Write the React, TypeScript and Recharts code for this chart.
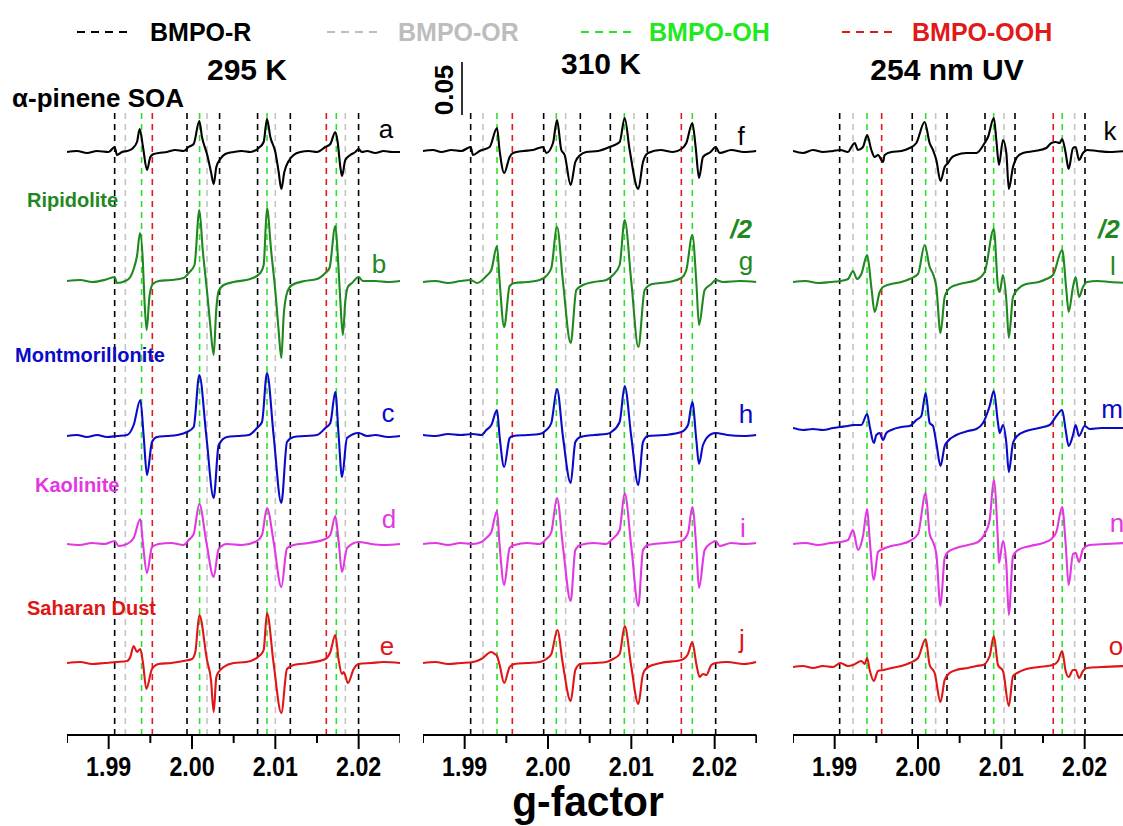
import React from 'react';
import { LineChart, Line, XAxis, YAxis, ReferenceLine } from 'recharts';

type Pt = [number, number];

// ---- adduct marker positions (g-factor) per panel ----
const R_295 = [1.99072, 1.9994, 2.00331, 2.00787, 2.0118, 2.01999];
const OR_295 = [1.992, 2.0018, 2.01, 2.0184];
const OH_295 = [1.99395, 2.00091, 2.009, 2.01732];
const OOH_295 = [1.99524, 2.01612];

const R_310 = [1.99072, 1.99948, 2.00388, 2.00748, 2.01192, 2.02012];
const OR_310 = [1.9922, 2.00212, 2.01032];
const OH_310 = [1.99388, 2.001, 2.00916, 2.01732];
const OOH_310 = [1.99572, 2.016];

const R_UV = [1.9906, 1.99931, 2.00348, 2.00804, 2.01164, 2.02004];
const OR_UV = [1.9922, 2.00212, 2.01032, 2.0188];
const OH_UV = [1.99388, 2.00092, 2.00908, 2.01731];
const OOH_UV = [1.99564, 2.01623];

// ---- spectra: [g-factor, intensity (a.u., 53 = 0.05)] ----
const soa295: Pt[] = [[1.985,0],[1.9862,1],[1.9874,-1],[1.9886,1],[1.99,0],[1.99072,5],[1.991,-3],[1.9916,0],[1.9922,1],[1.9928,3],[1.9934,10],[1.99372,23],[1.99412,5],[1.9946,-18],[1.995,-5],[1.9954,-2],[1.996,-1],[1.997,0],[1.998,2],[1.999,1],[1.9996,5],[2.0002,8],[2.00088,31],[2.0012,15],[2.0018,-2],[2.00228,-20],[2.0026,-32],[2.00292,-15],[2.0034,-7],[2.004,-2],[2.005,0],[2.006,1],[2.007,0],[2.008,4],[2.0086,10],[2.009,33],[2.0094,15],[2.01,0],[2.0104,-20],[2.01072,-37],[2.01108,-20],[2.0116,-9],[2.0122,-3],[2.013,0],[2.014,1],[2.015,0],[2.016,5],[2.0166,8],[2.0172,20],[2.01748,10],[2.0178,-15],[2.018,-24],[2.0184,-8],[2.019,-3],[2.0196,0],[2.02,3],[2.0204,0],[2.021,1],[2.022,-1],[2.023,1],[2.024,0],[2.025,0]];
const rip295: Pt[] = [[1.985,0],[1.9866,1],[1.988,-1],[1.9895,1],[1.99072,4],[1.991,-2],[1.992,0],[1.9926,4],[1.993,12],[1.9934,25],[1.99376,48],[1.9941,20],[1.9943,-20],[1.99456,-49],[1.9949,-15],[1.9953,-3],[1.996,0],[1.9975,1],[1.999,3],[1.9996,8],[2.0003,16],[2.00088,71],[2.0013,30],[2.0018,-10],[2.0022,-45],[2.0026,-74],[2.0029,-30],[2.0032,-10],[2.0038,-4],[2.005,-1],[2.007,2],[2.0082,8],[2.0086,16],[2.009,73],[2.0095,30],[2.01,-10],[2.0104,-50],[2.01072,-77],[2.011,-35],[2.0114,-12],[2.012,-4],[2.0135,0],[2.015,2],[2.016,8],[2.0165,13],[2.0172,55],[2.0175,25],[2.0178,-20],[2.0181,-54],[2.0184,-20],[2.0187,-6],[2.0192,-2],[2.02,4],[2.0205,0],[2.022,0],[2.0235,-1],[2.025,0]];
const mont295: Pt[] = [[1.985,0],[1.9862,1],[1.9874,-1],[1.9886,1],[1.9898,-1],[1.991,0],[1.9922,1],[1.993,11],[1.9938,36],[1.9942,0],[1.9946,-39],[1.9952,-6],[1.9958,-1],[1.997,0],[1.9982,1],[1.9994,4],[2.0002,9],[2.00088,61],[2.00172,0],[2.0026,-62],[2.0032,-9],[2.0042,-1],[2.0055,0],[2.0068,1],[2.0078,8],[2.0084,14],[2.009,63],[2.0098,0],[2.01072,-67],[2.0114,-6],[2.0122,-1],[2.0135,0],[2.015,1],[2.016,8],[2.0166,13],[2.0172,44],[2.0176,0],[2.018,-41],[2.0186,-2],[2.02,3],[2.021,0],[2.022,1],[2.0235,-1],[2.025,0]];
const kao295: Pt[] = [[1.985,0],[1.9865,-1],[1.988,1],[1.9895,0],[1.99072,3],[1.9912,-2],[1.9922,0],[1.993,6],[1.9938,25],[1.99412,0],[1.9946,-29],[1.9952,-3],[1.996,0],[1.9975,1],[1.999,-1],[1.9996,4],[2.0002,10],[2.00088,40],[2.00172,2],[2.0026,-33],[2.0032,-5],[2.0042,0],[2.006,-1],[2.0078,3],[2.0084,9],[2.009,36],[2.0098,2],[2.01072,-43],[2.0114,-4],[2.0122,-1],[2.014,1],[2.016,5],[2.0166,9],[2.0172,28],[2.0176,2],[2.018,-28],[2.0186,-4],[2.02,2],[2.0215,0],[2.023,-1],[2.025,0]];
const sah295: Pt[] = [[1.985,0],[1.9866,1],[1.988,-1],[1.9895,0],[1.991,1],[1.9922,2],[1.9926,6],[1.993,17],[1.9934,11],[1.9938,14],[1.99412,0],[1.99452,-26],[1.9952,-6],[1.996,-1],[1.9975,0],[1.999,2],[2.0,4],[2.0004,11],[2.00088,48],[2.0018,3],[2.00228,-17],[2.0026,-49],[2.00292,-14],[2.0032,-9],[2.0038,-4],[2.005,0],[2.0065,1],[2.0082,8],[2.0086,13],[2.009,50],[2.0098,-1],[2.01072,-50],[2.0114,-6],[2.0122,-2],[2.014,0],[2.016,4],[2.0166,11],[2.0172,28],[2.0176,3],[2.018,-11],[2.0182,-9],[2.01872,-20],[2.0194,-6],[2.02,-1],[2.0215,0],[2.023,1],[2.025,0]];

const soa310: Pt[] = [[1.985,0],[1.9862,1],[1.9872,-1],[1.9884,1],[1.9896,0],[1.99072,4],[1.991,-4],[1.9918,0],[1.993,4],[1.99388,23],[1.9942,0],[1.99474,-22],[1.9954,-6],[1.9958,-2],[1.997,0],[1.9982,1],[1.9994,4],[1.9998,-2],[2.0006,8],[2.00108,31],[2.0016,1],[2.002,-4],[2.00272,-34],[2.00328,-11],[2.00388,-4],[2.0046,-1],[2.006,0],[2.0074,4],[2.0086,9],[2.0092,33],[2.0098,1],[2.01084,-38],[2.0114,-11],[2.012,-2],[2.0135,1],[2.015,-1],[2.016,2],[2.0166,8],[2.01732,28],[2.01772,4],[2.01812,-27],[2.0186,-6],[2.0195,-1],[2.02012,4],[2.0206,-2],[2.022,1],[2.0235,-1],[2.025,0]];
const rip310: Pt[] = [[1.985,0],[1.9865,1],[1.988,-1],[1.9895,1],[1.99072,2],[1.9915,-1],[1.9926,6],[1.9932,12],[1.99388,36],[1.9942,0],[1.99474,-45],[1.9954,-4],[1.996,-1],[1.9975,0],[1.999,2],[1.9998,6],[2.0004,14],[2.00108,55],[2.0018,0],[2.00272,-61],[2.0034,-8],[2.0042,-3],[2.0055,0],[2.007,2],[2.0078,7],[2.0086,17],[2.0092,62],[2.01,0],[2.01084,-65],[2.0116,-8],[2.0125,-2],[2.0145,0],[2.016,4],[2.0166,12],[2.01732,47],[2.0178,0],[2.01812,-43],[2.0188,-8],[2.0196,-2],[2.02012,2],[2.021,0],[2.023,1],[2.025,0]];
const mont310: Pt[] = [[1.985,0],[1.9865,-1],[1.988,1],[1.9895,0],[1.991,1],[1.992,0],[1.9926,5],[1.9932,10],[1.99388,25],[1.9942,-2],[1.99474,-32],[1.9954,-3],[1.9958,-1],[1.9975,0],[1.999,1],[1.9998,5],[2.0004,12],[2.00108,46],[2.0018,-2],[2.00272,-48],[2.00328,-7],[2.00388,-2],[2.0055,0],[2.007,1],[2.0076,3],[2.0086,13],[2.0092,49],[2.01,-2],[2.01084,-50],[2.0114,-7],[2.012,-1],[2.014,0],[2.016,3],[2.0168,10],[2.01732,33],[2.0178,-5],[2.01812,-29],[2.0186,-10],[2.0196,1],[2.02012,2],[2.0215,0],[2.0235,-1],[2.025,0]];
const kao310: Pt[] = [[1.985,0],[1.9865,1],[1.988,-1],[1.9895,1],[1.991,0],[1.992,2],[1.9926,6],[1.9932,12],[1.99388,33],[1.9942,-2],[1.99474,-41],[1.9954,-4],[1.996,-1],[1.9975,1],[1.999,0],[1.9998,5],[2.0004,12],[2.00108,46],[2.0018,-3],[2.00272,-57],[2.00328,-6],[2.00388,-1],[2.0055,1],[2.007,0],[2.0076,4],[2.0086,14],[2.0092,51],[2.01,-3],[2.01084,-62],[2.0114,-6],[2.012,-1],[2.014,1],[2.016,3],[2.0168,11],[2.01732,37],[2.0178,-4],[2.01812,-44],[2.0188,-6],[2.0196,1],[2.02012,3],[2.0206,-2],[2.022,1],[2.0235,0],[2.025,1]];
const sah310: Pt[] = [[1.985,0],[1.9865,1],[1.988,-1],[1.9895,0],[1.991,1],[1.992,4],[1.9932,11],[1.9936,9],[1.99388,7],[1.9942,-2],[1.99474,-20],[1.9954,-4],[1.996,-1],[1.9975,0],[1.999,1],[1.9998,4],[2.0004,9],[2.00112,33],[2.0018,-2],[2.00272,-38],[2.00328,-7],[2.00388,-1],[2.0055,0],[2.007,1],[2.0078,4],[2.0086,9],[2.0092,37],[2.01,-4],[2.01084,-41],[2.0114,-11],[2.012,-4],[2.0135,0],[2.016,3],[2.0168,9],[2.01732,21],[2.0178,-1],[2.0182,-14],[2.0186,-11],[2.019,-12],[2.0196,-2],[2.02012,0],[2.0215,1],[2.0235,-1],[2.025,1]];

const soaUV: Pt[] = [[1.985,0],[1.9862,-2],[1.9874,1],[1.9886,-1],[1.9898,0],[1.99068,1],[1.9916,-1],[1.992,4],[1.9924,8],[1.9928,1],[1.9934,4],[1.9939,16],[1.9944,1],[1.9948,-6],[1.9952,-4],[1.9958,-11],[1.996,-4],[1.9968,-1],[1.998,0],[1.999,3],[1.9998,8],[2.0008,29],[2.0014,8],[2.0018,1],[2.0022,-9],[2.0027,-30],[2.0032,-16],[2.0036,-12],[2.004,-7],[2.0046,-4],[2.0058,-2],[2.007,-2],[2.008,8],[2.0084,14],[2.0091,33],[2.0094,11],[2.00972,-14],[2.0102,11],[2.0106,-2],[2.0109,-38],[2.0114,-16],[2.0119,-6],[2.0126,-2],[2.014,0],[2.0154,3],[2.016,8],[2.01652,9],[2.017,8],[2.0173,12],[2.01772,-2],[2.01808,-18],[2.0186,3],[2.01892,4],[2.01932,-9],[2.0198,-2],[2.0203,1],[2.0215,0],[2.023,-1],[2.025,0]];
const ripUV: Pt[] = [[1.985,0],[1.9865,1],[1.988,-1],[1.9895,0],[1.99068,1],[1.9916,3],[1.9922,11],[1.99268,3],[1.9932,8],[1.9939,27],[1.9944,-5],[1.9948,-30],[1.9954,-10],[1.9958,-5],[1.9968,-2],[1.998,0],[1.999,3],[2.0,8],[2.0008,37],[2.0014,15],[2.0018,8],[2.0022,-5],[2.0027,-51],[2.0032,-15],[2.0036,-8],[2.004,-5],[2.005,-2],[2.007,2],[2.008,10],[2.0091,53],[2.0096,-5],[2.0098,-10],[2.0102,7],[2.0106,-18],[2.0109,-56],[2.0114,-15],[2.012,-7],[2.013,-2],[2.0145,0],[2.0154,3],[2.0162,7],[2.0173,32],[2.0178,-8],[2.01808,-30],[2.0186,-5],[2.01892,5],[2.01932,-15],[2.0198,-5],[2.0203,0],[2.0215,1],[2.023,0],[2.025,-1]];
const montUV: Pt[] = [[1.985,0],[1.9862,-2],[1.9874,-1],[1.9886,-2],[1.9898,0],[1.99068,1],[1.9916,2],[1.9922,3],[1.9932,3],[1.9939,14],[1.9942,2],[1.9947,-15],[1.995,-7],[1.9954,-5],[1.9958,-12],[1.9962,-5],[1.9968,-2],[1.998,1],[1.999,2],[1.9998,8],[2.0004,12],[2.00092,35],[2.0014,5],[2.0018,2],[2.0022,-15],[2.0027,-38],[2.0032,-18],[2.0036,-13],[2.0046,-7],[2.006,-3],[2.007,-1],[2.0078,5],[2.0086,22],[2.0091,37],[2.0096,5],[2.0098,-5],[2.0102,3],[2.0106,-15],[2.0109,-44],[2.0114,-15],[2.0119,-8],[2.013,-3],[2.0145,0],[2.0158,3],[2.0166,12],[2.0173,18],[2.01772,-2],[2.01808,-18],[2.0186,-7],[2.01892,3],[2.01932,-8],[2.02,2],[2.0206,-1],[2.022,0],[2.025,0]];
const kaoUV: Pt[] = [[1.985,0],[1.9865,1],[1.988,-1],[1.9895,1],[1.99068,2],[1.9916,4],[1.9922,14],[1.9928,-6],[1.9934,8],[1.9939,35],[1.9942,5],[1.9947,-36],[1.9952,-8],[1.9958,-5],[1.9968,-2],[1.998,0],[1.999,3],[2.0,10],[2.00092,51],[2.0014,10],[2.0018,2],[2.0022,-10],[2.0027,-62],[2.0032,-14],[2.0036,-8],[2.0046,-4],[2.006,-1],[2.0072,2],[2.008,10],[2.0086,24],[2.0091,64],[2.0096,2],[2.00972,-19],[2.0102,3],[2.0106,-20],[2.0109,-71],[2.0114,-12],[2.012,-6],[2.0135,-2],[2.015,1],[2.016,5],[2.0166,12],[2.0173,37],[2.01772,0],[2.01808,-41],[2.0186,-10],[2.01892,-9],[2.01932,-18],[2.0198,-5],[2.0206,-1],[2.0225,0],[2.025,1]];
const sahUV: Pt[] = [[1.985,0],[1.9862,1],[1.9874,-1],[1.9886,1],[1.9898,0],[1.99068,4],[1.9916,1],[1.9922,2],[1.9932,6],[1.9936,3],[1.9939,9],[1.9942,-3],[1.9947,-14],[1.9952,-4],[1.9958,-3],[1.9968,-1],[1.998,1],[1.999,4],[2.0,9],[2.00092,28],[2.0014,2],[2.002,-6],[2.0027,-35],[2.0032,-13],[2.0038,-6],[2.0046,-3],[2.006,-1],[2.007,1],[2.0078,2],[2.0086,11],[2.0091,31],[2.0096,2],[2.0102,-4],[2.0109,-39],[2.0114,-9],[2.0119,-6],[2.013,-2],[2.0145,0],[2.0162,2],[2.0168,6],[2.0173,16],[2.01772,-4],[2.01808,-10],[2.0186,-3],[2.01892,-3],[2.01932,-11],[2.0198,-4],[2.0203,-1],[2.022,0],[2.025,1]];

const G_TICKS = [1.985, 1.99, 1.995, 2.0, 2.005, 2.01, 2.015, 2.02, 2.025];
const SAMPLE_LETTERS = [['a', 'b', 'c', 'd', 'e'], ['f', 'g', 'h', 'i', 'j'], ['k', 'l', 'm', 'n', 'o']];
const SAMPLE_NAMES = ['Ripidolite', 'Montmorillonite', 'Kaolinite', 'Saharan Dust'];

// layout / style
const TRACE_COLORS = ['#000000', '#1f881f', '#0a0ac8', '#e238e2', '#e01515'];
const MARK = { R: '#000000', OR: '#c4c4c4', OH: '#2ee02e', OOH: '#e01a1a' };
const PLOT_TOP = 110;
const AXIS_Y = 735;
const AXIS_H = 60;
const PANEL_W = 1000 / 3;
const FONT = '"Liberation Sans", Arial, sans-serif';

function GTick(props: any) {
  const { x, y, payload } = props;
  const v = payload.value as number;
  const major = Math.abs(v * 100 - Math.round(v * 100)) < 1e-6;
  return (
    <g>
      <line x1={x} x2={x} y1={y} y2={y + (major ? 14 : 8)} stroke="#000" strokeWidth={2} />
      {major && (
        <text
          transform={`translate(${x},${y + 41}) scale(0.86,1)`}
          textAnchor="middle"
          fontFamily={FONT}
          fontWeight="bold"
          fontSize={27}
          fill="#000"
        >
          {v.toFixed(2)}
        </text>
      )}
    </g>
  );
}

type PanelProps = {
  left: number;
  traces: Pt[][];
  offsets: number[];
  markers: { g: number[]; color: string }[];
};

function Panel({ left, traces, offsets, markers }: PanelProps) {
  return (
    <div style={{ position: 'absolute', left, top: PLOT_TOP }}>
      <LineChart
        width={PANEL_W}
        height={AXIS_Y - PLOT_TOP + AXIS_H}
        margin={{ top: 0, right: 0, bottom: 0, left: 0 }}
      >
        <XAxis
          type="number"
          dataKey="g"
          domain={[1.985, 2.025]}
          allowDataOverflow
          ticks={G_TICKS}
          interval={0}
          tick={<GTick />}
          tickLine={false}
          tickSize={0}
          tickMargin={0}
          height={AXIS_H}
          axisLine={{ stroke: '#000', strokeWidth: 2 }}
        />
        <YAxis type="number" domain={[0, AXIS_Y - PLOT_TOP]} allowDataOverflow hide />
        {markers.flatMap((m, mi) =>
          m.g.map((g, gi) => (
            <ReferenceLine
              key={`m${mi}-${gi}`}
              x={g}
              stroke={m.color}
              strokeWidth={1.6}
              strokeDasharray="6 5"
            />
          )),
        )}
        {traces.map((t, i) => (
          <Line
            key={i}
            data={t.map(([g, v]) => ({ g, y: offsets[i] + v }))}
            dataKey="y"
            type="monotone"
            stroke={TRACE_COLORS[i]}
            strokeWidth={2.1}
            dot={false}
            isAnimationActive={false}
          />
        ))}
      </LineChart>
    </div>
  );
}

const txt = (extra: React.SVGProps<SVGTextElement>) => ({
  fontFamily: FONT,
  ...extra,
});

export default function App() {
  const letterPos = [
    [[386, 138], [379, 273], [388, 422], [389, 528], [387, 655]],
    [[741, 145], [746, 270], [746, 423], [743, 537], [742, 648]],
    [[1110, 140], [1113, 275], [1112, 418], [1117, 532], [1116, 655]],
  ];
  const namePos = [[27, 207], [15, 362], [35, 492], [27, 615]];
  return (
    <div
      style={{
        position: 'absolute',
        left: 0,
        top: 0,
        width: 1123,
        height: 826,
        overflow: 'hidden',
        background: '#fff',
      }}
    >
      <Panel
        left={66.67}
        traces={[soa295, rip295, mont295, kao295, sah295]}
        offsets={[583, 454, 299, 191, 72]}
        markers={[
          { g: R_295, color: MARK.R },
          { g: OR_295, color: MARK.OR },
          { g: OH_295, color: MARK.OH },
          { g: OOH_295, color: MARK.OOH },
        ]}
      />
      <Panel
        left={423.33}
        traces={[soa310, rip310, mont310, kao310, sah310]}
        offsets={[584, 453, 300, 191, 72]}
        markers={[
          { g: R_310, color: MARK.R },
          { g: OR_310, color: MARK.OR },
          { g: OH_310, color: MARK.OH },
          { g: OOH_310, color: MARK.OOH },
        ]}
      />
      <Panel
        left={793.33}
        traces={[soaUV, ripUV, montUV, kaoUV, sahUV]}
        offsets={[584, 453, 307, 191, 68]}
        markers={[
          { g: R_UV, color: MARK.R },
          { g: OR_UV, color: MARK.OR },
          { g: OH_UV, color: MARK.OH },
          { g: OOH_UV, color: MARK.OOH },
        ]}
      />
      <svg
        width={1123}
        height={826}
        style={{ position: 'absolute', left: 0, top: 0, pointerEvents: 'none' }}
      >
        {/* legend */}
        {[
          { x1: 77, x2: 127, tx: 150, label: 'BMPO-R', c: MARK.R },
          { x1: 327, x2: 379, tx: 398, label: 'BMPO-OR', c: '#bdbdbd' },
          { x1: 581, x2: 635, tx: 649, label: 'BMPO-OH', c: '#22e822' },
          { x1: 842, x2: 896, tx: 912, label: 'BMPO-OOH', c: MARK.OOH },
        ].map((l) => (
          <g key={l.label}>
            <line x1={l.x1} x2={l.x2} y1={32} y2={32} stroke={l.c} strokeWidth={2} strokeDasharray="8 6" />
            <text {...txt({ x: l.tx, y: 41, fontSize: 25, fontWeight: 'bold', fill: l.c })}>{l.label}</text>
          </g>
        ))}
        {/* panel titles */}
        <text {...txt({ x: 247, y: 80, fontSize: 30, fontWeight: 'bold', textAnchor: 'middle' })}>295 K</text>
        <text {...txt({ x: 601, y: 74, fontSize: 30, fontWeight: 'bold', textAnchor: 'middle' })}>310 K</text>
        <text {...txt({ x: 947, y: 80, fontSize: 30, fontWeight: 'bold', textAnchor: 'middle' })}>254 nm UV</text>
        {/* scale bar */}
        <line x1={462} x2={462} y1={62} y2={115} stroke="#000" strokeWidth={1.6} />
        <text
          {...txt({ fontSize: 26, fontWeight: 'bold', textAnchor: 'middle' })}
          transform="translate(453,90) rotate(-90)"
        >
          0.05
        </text>
        {/* sample names */}
        <text {...txt({ x: 12, y: 107, fontSize: 26, fontWeight: 'bold' })}>α-pinene SOA</text>
        {SAMPLE_NAMES.map((n, i) => (
          <text
            key={n}
            {...txt({ x: namePos[i][0], y: namePos[i][1], fontSize: 20, fontWeight: 'bold', fill: TRACE_COLORS[i + 1] })}
          >
            {n}
          </text>
        ))}
        {/* trace letters */}
        {SAMPLE_LETTERS.map((col, p) =>
          col.map((ch, i) => (
            <text
              key={ch}
              {...txt({
                x: letterPos[p][i][0],
                y: letterPos[p][i][1],
                fontSize: 26,
                textAnchor: 'middle',
                fill: TRACE_COLORS[i],
              })}
            >
              {ch}
            </text>
          )),
        )}
        <text {...txt({ x: 741, y: 238, fontSize: 26, fontWeight: 'bold', fontStyle: 'italic', textAnchor: 'middle', fill: TRACE_COLORS[1] })}>/2</text>
        <text {...txt({ x: 1098, y: 238, fontSize: 26, fontWeight: 'bold', fontStyle: 'italic', fill: TRACE_COLORS[1] })}>/2</text>
        {/* axis title */}
        <text
          {...txt({ fontSize: 42, fontWeight: 'bold', textAnchor: 'middle' })}
          transform="translate(588,816) scale(0.97,1)"
        >
          g-factor
        </text>
      </svg>
    </div>
  );
}
